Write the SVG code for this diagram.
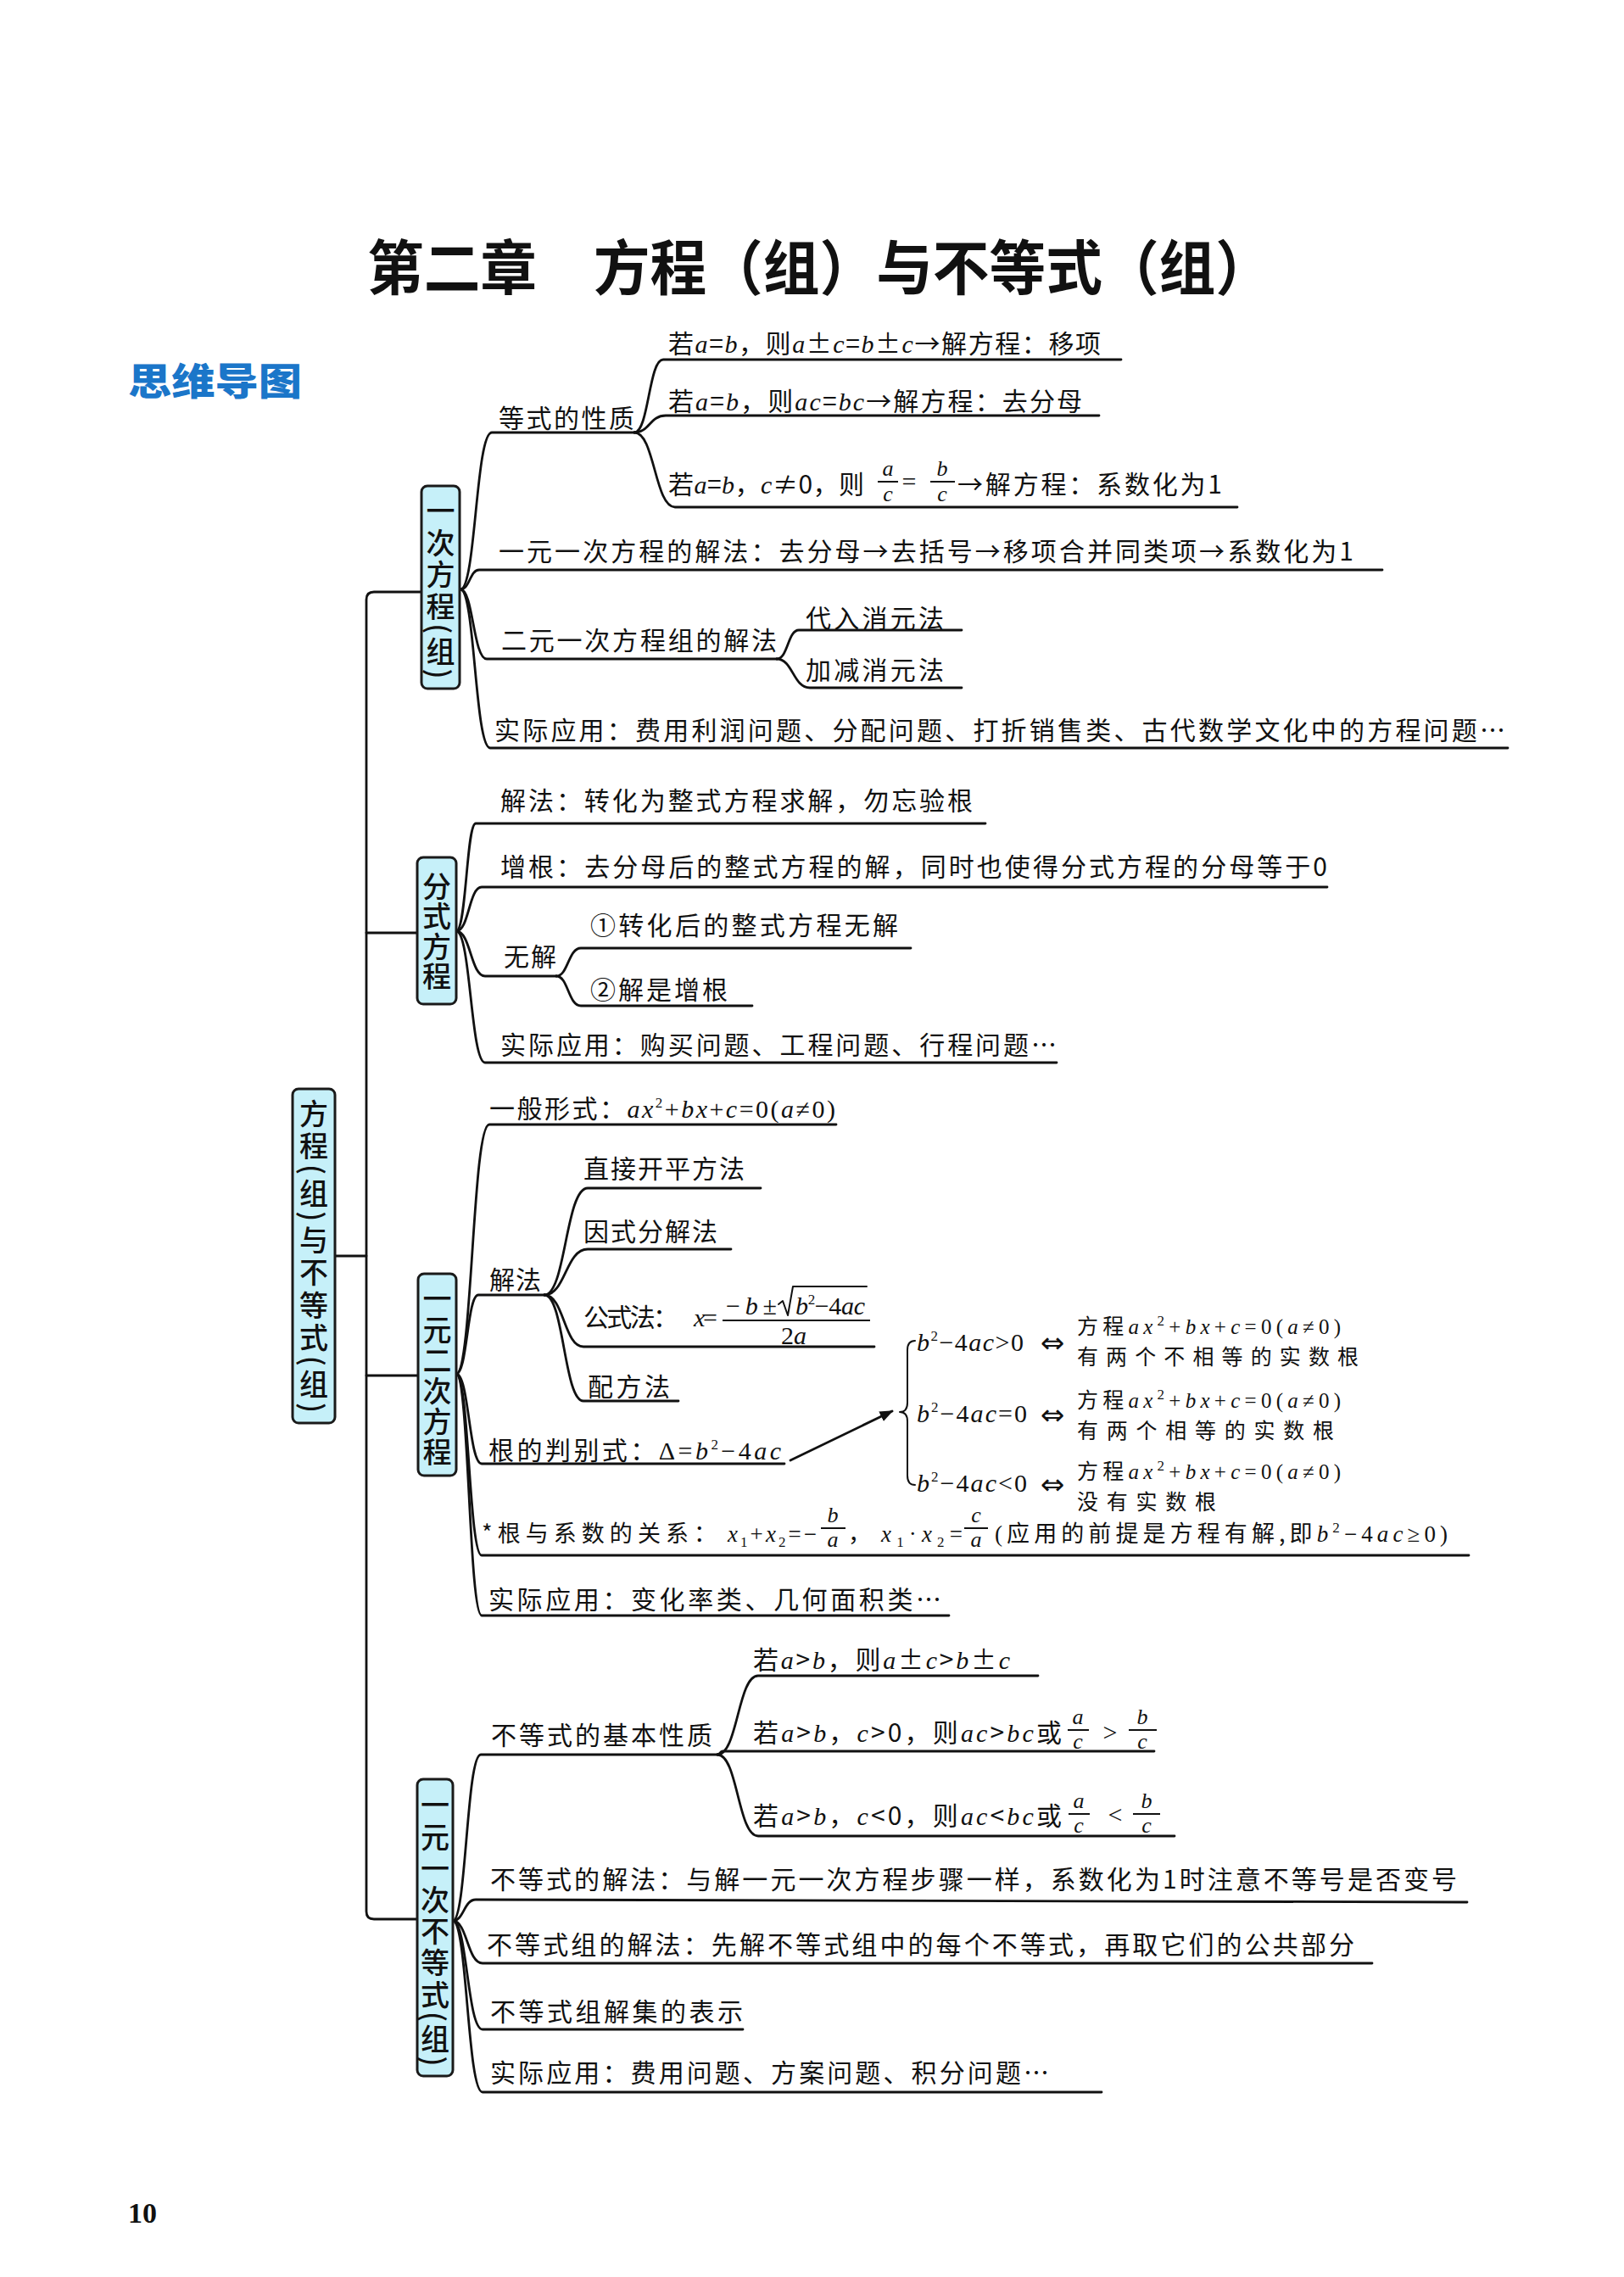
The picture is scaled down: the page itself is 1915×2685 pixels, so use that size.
<svg xmlns="http://www.w3.org/2000/svg" width="1915" height="2685" viewBox="0 0 1915 2685">
<style>
.t{font-family:"Noto Sans CJK SC",sans-serif;font-size:30px;fill:#111}
.s{font-size:25px}
.v{font-size:27px}
.m{font-family:"Liberation Serif",serif;font-style:italic}
.r{font-family:"Liberation Serif",serif}
.f{font-family:"Liberation Serif",serif;font-style:italic;font-size:26px;fill:#111;text-anchor:middle}
.sup{font-size:17px}
.ln{fill:none;stroke:#111;stroke-width:2.8;stroke-linecap:round;stroke-linejoin:round}
.bar{stroke:#111;stroke-width:2}
.box{fill:#c6f0f9;stroke:#1a1a1a;stroke-width:3}
.bt{font-family:"Noto Sans CJK SC",sans-serif;font-size:34px;font-weight:500;fill:#111;writing-mode:vertical-rl;text-anchor:middle}
.eq{font-family:"DejaVu Sans",sans-serif;font-size:34px;fill:#111;text-anchor:middle}
</style>
<defs>
<marker id="ah" viewBox="0 0 10 10" refX="9" refY="5" markerWidth="16" markerHeight="16" markerUnits="userSpaceOnUse" orient="auto"><path d="M0,1 L10,5 L0,9 z" fill="#111"/></marker>
</defs>
<rect x="0" y="0" width="1915" height="2685" fill="#fff"/>

<g id="title">
<text x="433" y="342" textLength="1067" lengthAdjust="spacingAndGlyphs" style="font-family:'Noto Sans CJK SC',sans-serif;font-size:70px;font-weight:700;fill:#111">第二章　方程（组）与不等式（组）</text>
</g>
<g id="subtitle">
<text x="151" y="466" textLength="205" lengthAdjust="spacingAndGlyphs" style="font-family:'Noto Sans CJK SC',sans-serif;font-size:44px;font-weight:900;fill:#1b76c9">思维导图</text>
</g>
<g id="page-number">
<text x="151" y="2621" style="font-family:'Liberation Serif',serif;font-size:34px;font-weight:700;fill:#111">10</text>
</g>

<g id="connectors">
<path class="ln" d="M497,698 H441 Q432,698 432,707 V2254 Q432,2263 441,2263 H492"/>
<path class="ln" d="M395,1481 H432"/>
<path class="ln" d="M432,1100 H492"/>
<path class="ln" d="M432,1622 H493"/>
<path class="ln" d="M543,695 C561,695 561,510 580,510 H748"/>
<path class="ln" d="M748,510 C765,510 765,424 782,424 H1322"/>
<path class="ln" d="M748,510 C766,510 766,490 785,490 H1296"/>
<path class="ln" d="M748,510 C772,510 772,598 796,598 H1459"/>
<path class="ln" d="M543,695 C554,695 554,672 565,672 H1630"/>
<path class="ln" d="M543,695 C558,695 558,777 574,777 H916"/>
<path class="ln" d="M916,777 C929,777 929,743 942,743 H1134"/>
<path class="ln" d="M916,777 C935,777 935,811 955,811 H1134"/>
<path class="ln" d="M543,695 C560,695 560,882 578,882 H1778"/>
<path class="ln" d="M538,1098 C550,1098 550,971 561,971 H1162"/>
<path class="ln" d="M538,1098 C553,1098 553,1046 568,1046 H1565"/>
<path class="ln" d="M538,1098 C555,1098 555,1151 572,1151 H656"/>
<path class="ln" d="M656,1151 C670,1151 670,1118 685,1118 H1074"/>
<path class="ln" d="M656,1151 C670,1151 670,1186 685,1186 H887"/>
<path class="ln" d="M538,1098 C555,1098 555,1253 572,1253 H1246"/>
<path class="ln" d="M538,1620 C557,1620 557,1326 577,1326 H986"/>
<path class="ln" d="M538,1620 C551,1620 551,1527 564,1527 H642"/>
<path class="ln" d="M642,1527 C667,1527 667,1401 693,1401 H897"/>
<path class="ln" d="M642,1527 C667,1527 667,1473 693,1473 H862"/>
<path class="ln" d="M642,1527 C665,1527 665,1588 688,1588 H1031"/>
<path class="ln" d="M642,1527 C665,1527 665,1652 688,1652 H800"/>
<path class="ln" d="M538,1620 C553,1620 553,1726 568,1726 H925"/>
<path class="ln" d="M538,1620 C553,1620 553,1834 568,1834 H1732"/>
<path class="ln" d="M538,1620 C553,1620 553,1905 568,1905 H1119"/>
<path class="ln" d="M932,1722 L1052,1664" marker-end="url(#ah)"/>
<path class="ln" style="stroke-width:2" d="M1079,1581 Q1070,1581 1070,1592 L1070,1654 Q1070,1665 1061,1665 Q1070,1665 1070,1676 L1070,1740 Q1070,1751 1079,1751"/>
<path class="ln" d="M534,2265 C550,2265 550,2069 567,2069 H846"/>
<path class="ln" d="M846,2069 C870,2069 870,1976 894,1976 H1224"/>
<path class="ln" d="M846,2069 C849,2069 849,2065 852,2065 H1361"/>
<path class="ln" d="M846,2069 C870,2069 870,2165 894,2165 H1385"/>
<path class="ln" d="M534,2265 C547,2265 547,2240 561,2240 L1730,2243"/>
<path class="ln" d="M534,2265 C551,2265 551,2315 569,2315 H1618"/>
<path class="ln" d="M534,2265 C551,2265 551,2393 569,2393 H876"/>
<path class="ln" d="M534,2265 C551,2265 551,2467 569,2467 H1299"/>
</g>

<g id="root">
<rect class="box" x="345" y="1284" width="50" height="394" rx="7"/>
<text class="bt" x="370" y="1481" textLength="370" lengthAdjust="spacing">方程(组)与不等式(组)</text>
</g>
<g id="node-linear">
<rect class="box" x="497" y="573" width="45" height="239" rx="7"/>
<text class="bt" x="519.5" y="693" textLength="215" lengthAdjust="spacing">一次方程(组)</text>
</g>
<g id="node-fractional">
<rect class="box" x="492" y="1011" width="46" height="173" rx="7"/>
<text class="bt" x="515" y="1098" textLength="140" lengthAdjust="spacing">分式方程</text>
</g>
<g id="node-quadratic">
<rect class="box" x="493" y="1502" width="45" height="238" rx="7"/>
<text class="bt" x="515.5" y="1622" textLength="215" lengthAdjust="spacing">一元二次方程</text>
</g>
<g id="node-inequality">
<rect class="box" x="492" y="2098" width="42" height="350" rx="7"/>
<text class="bt" x="513" y="2274" textLength="325" lengthAdjust="spacing">一元一次不等式(组)</text>
</g>

<g id="n-eq-props"><text class="t" x="588" y="504" textLength="160">等式的性质</text></g>
<g id="n-eq-p1"><text class="t" x="788" y="416" textLength="510">若<tspan class="m">a</tspan>=<tspan class="m">b</tspan>，则<tspan class="m">a</tspan>±<tspan class="m">c</tspan>=<tspan class="m">b</tspan>±<tspan class="m">c</tspan>→解方程：移项</text></g>
<g id="n-eq-p2"><text class="t" x="788" y="484" textLength="488">若<tspan class="m">a</tspan>=<tspan class="m">b</tspan>，则<tspan class="m">ac</tspan>=<tspan class="m">bc</tspan>→解方程：去分母</text></g>
<g id="n-eq-p3">
<text class="t" x="788" y="582" textLength="231">若<tspan class="m">a</tspan>=<tspan class="m">b</tspan>，<tspan class="m">c</tspan>≠0，则</text>
<text class="f" x="1047" y="561">a</text>
<line class="bar" x1="1035" y1="568" x2="1059" y2="568"/>
<text class="f" x="1047" y="591">c</text>
<text class="t r" x="1072" y="578" text-anchor="middle">=</text>
<text class="f" x="1111" y="561">b</text>
<line class="bar" x1="1097" y1="568" x2="1126" y2="568"/>
<text class="f" x="1111" y="591">c</text>
<text class="t" x="1129" y="582" textLength="312">→解方程：系数化为1</text>
</g>
<g id="n-linear-solve"><text class="t" x="588" y="661" textLength="1008">一元一次方程的解法：去分母→去括号→移项合并同类项→系数化为1</text></g>
<g id="n-system-solve"><text class="t" x="591" y="766" textLength="325">二元一次方程组的解法</text></g>
<g id="n-substitution"><text class="t" x="950" y="740" textLength="163">代入消元法</text></g>
<g id="n-elimination"><text class="t" x="950" y="801" textLength="163">加减消元法</text></g>
<g id="n-linear-app"><text class="t" x="583" y="872" textLength="1192">实际应用：费用利润问题、分配问题、打折销售类、古代数学文化中的方程问题…</text></g>

<g id="n-frac-solve"><text class="t" x="590" y="955" textLength="557">解法：转化为整式方程求解，勿忘验根</text></g>
<g id="n-frac-extraneous"><text class="t" x="590" y="1033" textLength="975">增根：去分母后的整式方程的解，同时也使得分式方程的分母等于0</text></g>
<g id="n-frac-nosol"><text class="t" x="594" y="1139" textLength="62">无解</text></g>
<g id="n-frac-nosol1"><text class="t" x="696" y="1102" textLength="363">①转化后的整式方程无解</text></g>
<g id="n-frac-nosol2"><text class="t" x="696" y="1178" textLength="162">②解是增根</text></g>
<g id="n-frac-app"><text class="t" x="590" y="1243" textLength="656">实际应用：购买问题、工程问题、行程问题…</text></g>

<g id="n-quad-form"><text class="t" x="577" y="1318" textLength="408">一般形式：<tspan class="m">ax</tspan><tspan class="r sup" dy="-12">2</tspan><tspan class="r" dy="12">+</tspan><tspan class="m">bx</tspan><tspan class="r">+</tspan><tspan class="m">c</tspan><tspan class="r">=0(</tspan><tspan class="m">a</tspan><tspan class="r">≠0)</tspan></text></g>
<g id="n-quad-methods"><text class="t" x="577" y="1520" textLength="61">解法</text></g>
<g id="n-quad-m1"><text class="t" x="688" y="1389" textLength="190">直接开平方法</text></g>
<g id="n-quad-m2"><text class="t" x="688" y="1463" textLength="158">因式分解法</text></g>
<g id="n-quad-m3">
<text class="t" x="688" y="1564" textLength="112">公式法：</text>
<text class="t" x="818" y="1564" textLength="28"><tspan class="m">x</tspan><tspan class="r">=</tspan></text>
<text class="t" x="856" y="1550" textLength="60"><tspan class="r">−</tspan><tspan class="m">b</tspan><tspan class="r">±</tspan></text>
<path class="ln" style="stroke-width:2" d="M918,1538 L923,1534 L929,1551 L935,1517 H1022"/>
<text class="t" x="938" y="1550" textLength="82"><tspan class="m">b</tspan><tspan class="r sup" dy="-12">2</tspan><tspan class="r" dy="12">−4</tspan><tspan class="m">ac</tspan></text>
<line class="bar" x1="852" y1="1557" x2="1026" y2="1557"/>
<text class="t" x="936" y="1585" text-anchor="middle"><tspan class="r">2</tspan><tspan class="m">a</tspan></text>
</g>
<g id="n-quad-m4"><text class="t" x="693" y="1646" textLength="97">配方法</text></g>
<g id="n-quad-disc"><text class="t" x="576" y="1721" textLength="345">根的判别式：<tspan class="r">Δ=</tspan><tspan class="m">b</tspan><tspan class="r sup" dy="-12">2</tspan><tspan class="r" dy="12">−4</tspan><tspan class="m">ac</tspan></text></g>
<g id="n-disc-pos">
<text class="t" x="1081" y="1593" textLength="126"><tspan class="m">b</tspan><tspan class="r sup" dy="-12">2</tspan><tspan class="r" dy="12">−4</tspan><tspan class="m">ac</tspan><tspan class="r">&gt;0</tspan></text>
<text class="eq" x="1241" y="1595">⇔</text>
<text class="t s" x="1270" y="1573" textLength="311">方程<tspan class="m">ax</tspan><tspan class="r sup" dy="-10">2</tspan><tspan class="r" dy="10">+</tspan><tspan class="m">bx</tspan><tspan class="r">+</tspan><tspan class="m">c</tspan><tspan class="r">=0(</tspan><tspan class="m">a</tspan><tspan class="r">≠0)</tspan></text>
<text class="t s" x="1270" y="1609" textLength="332">有两个不相等的实数根</text>
</g>
<g id="n-disc-zero">
<text class="t" x="1081" y="1677" textLength="130"><tspan class="m">b</tspan><tspan class="r sup" dy="-12">2</tspan><tspan class="r" dy="12">−4</tspan><tspan class="m">ac</tspan><tspan class="r">=0</tspan></text>
<text class="eq" x="1241" y="1680">⇔</text>
<text class="t s" x="1270" y="1660" textLength="311">方程<tspan class="m">ax</tspan><tspan class="r sup" dy="-10">2</tspan><tspan class="r" dy="10">+</tspan><tspan class="m">bx</tspan><tspan class="r">+</tspan><tspan class="m">c</tspan><tspan class="r">=0(</tspan><tspan class="m">a</tspan><tspan class="r">≠0)</tspan></text>
<text class="t s" x="1270" y="1696" textLength="303">有两个相等的实数根</text>
</g>
<g id="n-disc-neg">
<text class="t" x="1081" y="1759" textLength="130"><tspan class="m">b</tspan><tspan class="r sup" dy="-12">2</tspan><tspan class="r" dy="12">−4</tspan><tspan class="m">ac</tspan><tspan class="r">&lt;0</tspan></text>
<text class="eq" x="1241" y="1762">⇔</text>
<text class="t s" x="1270" y="1744" textLength="311">方程<tspan class="m">ax</tspan><tspan class="r sup" dy="-10">2</tspan><tspan class="r" dy="10">+</tspan><tspan class="m">bx</tspan><tspan class="r">+</tspan><tspan class="m">c</tspan><tspan class="r">=0(</tspan><tspan class="m">a</tspan><tspan class="r">≠0)</tspan></text>
<text class="t s" x="1270" y="1780" textLength="164">没有实数根</text>
</g>
<g id="n-vieta">
<text class="t v" x="568" y="1818" textLength="277">*根与系数的关系：</text>
<text class="t v" x="858" y="1818" textLength="105"><tspan class="m">x</tspan><tspan class="r sup" dy="6">1</tspan><tspan class="r" dy="-6">+</tspan><tspan class="m">x</tspan><tspan class="r sup" dy="6">2</tspan><tspan class="r" dy="-6">=−</tspan></text>
<text class="f" x="982" y="1795">b</text>
<line class="bar" x1="968" y1="1802" x2="997" y2="1802"/>
<text class="f" x="982" y="1824">a</text>
<text class="t v" x="1000" y="1818">，</text>
<text class="t v" x="1039" y="1818" textLength="96"><tspan class="m">x</tspan><tspan class="r sup" dy="6">1</tspan><tspan class="r" dy="-6">·</tspan><tspan class="m">x</tspan><tspan class="r sup" dy="6">2</tspan><tspan class="r" dy="-6">=</tspan></text>
<text class="f" x="1151" y="1795">c</text>
<line class="bar" x1="1137" y1="1802" x2="1165" y2="1802"/>
<text class="f" x="1151" y="1824">a</text>
<text class="t v" x="1173" y="1818" textLength="534"><tspan class="r">(</tspan>应用的前提是方程有解,即<tspan class="m">b</tspan><tspan class="r sup" dy="-11">2</tspan><tspan class="r" dy="11">−4</tspan><tspan class="m">ac</tspan><tspan class="r">≥0)</tspan></text>
</g>
<g id="n-quad-app"><text class="t" x="576" y="1897" textLength="534">实际应用：变化率类、几何面积类…</text></g>

<g id="n-ineq-props"><text class="t" x="579" y="2057" textLength="261">不等式的基本性质</text></g>
<g id="n-ineq-p1"><text class="t" x="888" y="1968" textLength="303">若<tspan class="m">a</tspan>&gt;<tspan class="m">b</tspan>，则<tspan class="m">a</tspan>±<tspan class="m">c</tspan>&gt;<tspan class="m">b</tspan>±<tspan class="m">c</tspan></text></g>
<g id="n-ineq-p2">
<text class="t" x="888" y="2054" textLength="364">若<tspan class="m">a</tspan>&gt;<tspan class="m">b</tspan>，<tspan class="m">c</tspan>&gt;0，则<tspan class="m">ac</tspan>&gt;<tspan class="m">bc</tspan>或</text>
<text class="f" x="1271" y="2033">a</text>
<line class="bar" x1="1259" y1="2040" x2="1284" y2="2040"/>
<text class="f" x="1271" y="2062">c</text>
<text class="t r" x="1309" y="2053" text-anchor="middle">&gt;</text>
<text class="f" x="1347" y="2033">b</text>
<line class="bar" x1="1331" y1="2040" x2="1364" y2="2040"/>
<text class="f" x="1347" y="2062">c</text>
</g>
<g id="n-ineq-p3">
<text class="t" x="888" y="2152" textLength="364">若<tspan class="m">a</tspan>&gt;<tspan class="m">b</tspan>，<tspan class="m">c</tspan>&lt;0，则<tspan class="m">ac</tspan>&lt;<tspan class="m">bc</tspan>或</text>
<text class="f" x="1272" y="2132">a</text>
<line class="bar" x1="1260" y1="2139" x2="1285" y2="2139"/>
<text class="f" x="1272" y="2161">c</text>
<text class="t r" x="1315" y="2150" text-anchor="middle">&lt;</text>
<text class="f" x="1352" y="2132">b</text>
<line class="bar" x1="1336" y1="2139" x2="1368" y2="2139"/>
<text class="f" x="1352" y="2161">c</text>
</g>
<g id="n-ineq-solve"><text class="t" x="578" y="2227" textLength="1140">不等式的解法：与解一元一次方程步骤一样，系数化为1时注意不等号是否变号</text></g>
<g id="n-ineq-sys-solve"><text class="t" x="574" y="2304" textLength="1023">不等式组的解法：先解不等式组中的每个不等式，再取它们的公共部分</text></g>
<g id="n-ineq-sys-set"><text class="t" x="578" y="2383" textLength="298">不等式组解集的表示</text></g>
<g id="n-ineq-app"><text class="t" x="578" y="2455" textLength="659">实际应用：费用问题、方案问题、积分问题…</text></g>
</svg>
